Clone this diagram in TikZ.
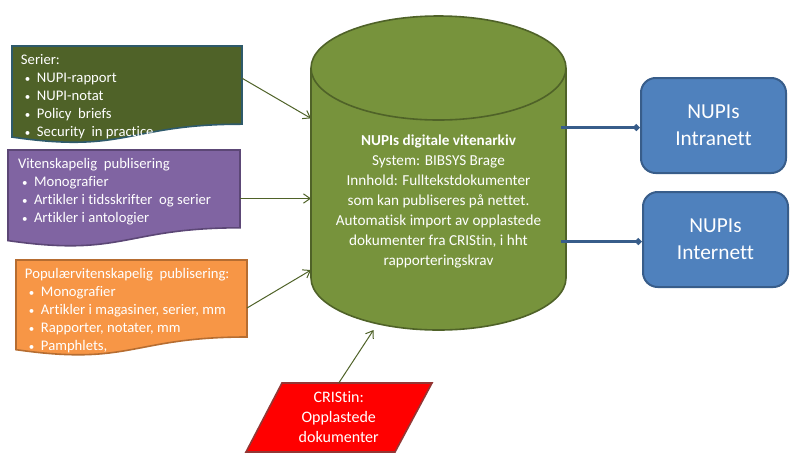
\documentclass[tikz,border=0pt]{standalone}
\usepackage{fontspec}
\setmainfont{Carlito}[Ligatures={NoCommon}]
\usetikzlibrary{arrows.meta,calc}
\definecolor{serfill}{HTML}{4F6228}
\definecolor{serline}{HTML}{2E5A6B}
\definecolor{vitfill}{HTML}{8064A2}
\definecolor{vitline}{HTML}{5C4776}
\definecolor{popfill}{HTML}{F79646}
\definecolor{popline}{HTML}{B66D31}
\definecolor{cylfill}{HTML}{77933C}
\definecolor{cylline}{HTML}{4F6228}
\definecolor{bluefill}{HTML}{4F81BD}
\definecolor{blueline}{HTML}{385D8A}
\definecolor{crisfill}{HTML}{FF0000}
\definecolor{crisline}{HTML}{943634}
\definecolor{greenarrow}{HTML}{4F6228}
\newcommand{\bul}{\hspace*{3pt}\makebox[9pt][l]{\scalebox{0.75}{\textbullet}}}
\newcommand{\docshape}[2]{\draw[#1] (#2.north west) -- (#2.north east) -- ($(#2.north east)!0.802!(#2.south east)$) .. controls ($(#2.north)!0.802!(#2.south)$) and ($(#2.north)!1.107!(#2.south)$) .. ($(#2.north west)!0.934!(#2.south west)$) -- cycle;}
\begin{document}
\begin{tikzpicture}[x=0.75pt,y=-0.75pt,
  frame/.style={inner sep=0pt, outer sep=0pt, draw=none},
  lbl/.style={inner sep=0pt, outer sep=0pt, align=left, text=white, font=\fontsize{11pt}{13.5pt}\selectfont},
  bluebox/.style={draw=blueline, fill=bluefill, line width=1.5pt, rounded corners=11pt, minimum width=108.75pt, minimum height=71.25pt, align=center, text=white, font=\fontsize{16pt}{20pt}\selectfont},
  greenarr/.style={draw=greenarrow, line width=0.75pt, -{Straight Barb[length=5pt,width=7pt]}},
  bluearr/.style={draw=blueline, line width=2.2pt, -{Straight Barb[length=2pt,width=4pt]}}
]
\useasboundingbox (0,0) rectangle (793,455);

% frames of the document boxes
\node[frame, minimum width=172.5pt, minimum height=73.1pt] (ser) at (127,94.75) {};
\node[frame, minimum width=174pt, minimum height=72.75pt] (vit) at (124,198.5) {};
\node[frame, minimum width=173.25pt, minimum height=72pt] (pop) at (131.5,308) {};
\docshape{draw=serline, fill=serfill, line width=1.2pt}{ser}
\docshape{draw=vitline, fill=vitfill, line width=1.2pt}{vit}
\docshape{draw=popline, fill=popfill, line width=1.2pt}{pop}

\node[lbl, anchor=north west] (sertxt) at (21,54.5) {Serier:\\ \bul NUPI-rapport\\ \bul NUPI-notat\\ \bul Policy\ \ briefs\\ \bul Security\ \ in practice};
\node[lbl, anchor=north west] (vittxt) at (18,158) {Vitenskapelig\ \ publisering\\ \bul Monografier\\ \bul Artikler i tidsskrifter\ \ og serier\\ \bul Artikler i antologier};
\node[lbl, anchor=north west] (poptxt) at (25,268) {Populærvitenskapelig\ \ publisering:\\ \bul Monografier\\ \bul Artikler i magasiner, serier, mm\\ \bul Rapporter, notater, mm\\ \bul Pamphlets,};

% cylinder
\node[frame, minimum width=191.25pt, minimum height=235.5pt] (cyl) at (438.5,173) {};
\draw[draw=cylline, fill=cylfill, line width=1.2pt] (311,68) -- (311,278) arc[start angle=180, end angle=360, x radius=95.625pt, y radius=39pt] -- (566,68) arc[start angle=0, end angle=180, x radius=95.625pt, y radius=39pt] -- cycle;
\draw[draw=cylline, line width=1.2pt] (311,68) arc[start angle=180, end angle=360, x radius=95.625pt, y radius=39pt];
\node[inner sep=0pt, align=center, text=white, font=\fontsize{11.4pt}{15pt}\selectfont] (cyltxt) at (438.5,201) {\textbf{NUPIs digitale vitenarkiv}\\ System: BIBSYS Brage\\ Innhold: Fulltekstdokumenter\\ som kan publiseres på nettet.\\ Automatisk import av opplastede\\ dokumenter fra CRIStin, i hht\\ rapporteringskrav};

% right boxes
\node[bluebox] (intra) at (713.5,125.5) {NUPIs\\ Intranett};
\node[bluebox] (inter) at (715.5,239.5) {NUPIs\\ Internett};

% CRIStin parallelogram
\node[frame, minimum width=112pt, minimum height=51.75pt] (cris) at (338.75,417.5) {};
\draw[draw=crisline, fill=crisfill, line width=1.2pt] ($(cris.center)+(-56.75,-34.5)$) -- ($(cris.center)+(93.25,-34.5)$) -- ($(cris.center)+(56.25,34.5)$) -- ($(cris.center)+(-92.75,34.5)$) -- cycle;
\node[inner sep=0pt, align=center, text=white, font=\fontsize{12pt}{15pt}\selectfont] (cristxt) at (cris.center) {CRIStin:\\ Opplastede\\ dokumenter};

% connectors
\draw[greenarr] ($(ser.north east)!0.33!(ser.south east)$) -- ($(cyl.north west)!0.326!(cyl.south west)$);
\draw[greenarr] (vit.east) -- (cyl.west |- vit.east);
\draw[greenarr] (pop.east) -- ($(cyl.north west)!0.809!(cyl.south west)$);
\draw[greenarr] (cris.north) -- ($(cyl.south)+(-65,0)$);
\draw[bluearr] ($(cyl.east |- intra.west)+(-5,2)$) -- ($(intra.west)+(0,2)$);
\draw[bluearr] ($(cyl.east |- inter.west)+(-5,2)$) -- ($(inter.west)+(0,2)$);
\end{tikzpicture}
\end{document}
